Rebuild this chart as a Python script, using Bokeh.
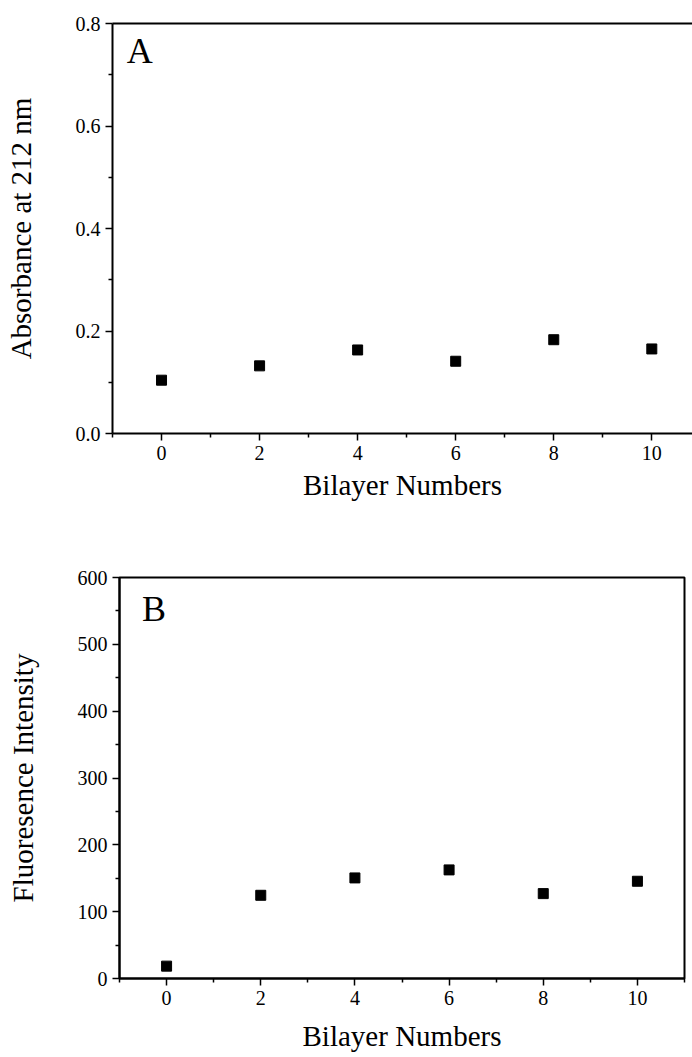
from bokeh.plotting import figure
from bokeh.models import FixedTicker, PrintfTickFormatter, Label, LinearAxis
from bokeh.embed import file_html
from bokeh.resources import INLINE

bilayers = [0, 2, 4, 6, 8, 10]
absorbance = [0.104, 0.132, 0.163, 0.141, 0.183, 0.165]
fluorescence = [18.5, 124.5, 150.5, 162.5, 127.0, 145.5]

x_major = [0, 2, 4, 6, 8, 10]
x_minor = [-1, 1, 3, 5, 7, 9, 11]
ya_major = [0.0, 0.2, 0.4, 0.6, 0.8]
ya_minor = [0.1, 0.3, 0.5, 0.7]
yb_major = [0, 100, 200, 300, 400, 500, 600]
yb_minor = [50, 150, 250, 350, 450, 550]

FONT = "Liberation Serif"


def style(p, xlabel, ylabel, xstand, ystand):
    p.xgrid.visible = False
    p.ygrid.visible = False
    p.outline_line_color = "black"
    p.outline_line_width = 2
    p.outline_line_alpha = 1
    p.background_fill_color = "white"
    p.border_fill_color = "white"
    for ax in (p.xaxis[0], p.yaxis[0]):
        ax.axis_line_color = "black"
        ax.axis_line_width = 2
        ax.major_tick_line_color = "black"
        ax.major_tick_line_width = 1.5
        ax.minor_tick_line_color = "black"
        ax.minor_tick_line_width = 1.5
        ax.major_tick_in = 0
        ax.major_tick_out = 7
        ax.minor_tick_in = 0
        ax.minor_tick_out = 4
        ax.major_label_text_font = FONT
        ax.major_label_text_font_size = "20px"
        ax.major_label_text_color = "black"
        ax.axis_label_text_font = FONT
        ax.axis_label_text_font_size = "29px"
        ax.axis_label_text_font_style = "normal"
        ax.axis_label_text_color = "black"
        ax.major_label_standoff = 5
    p.xaxis[0].axis_label = xlabel
    p.yaxis[0].axis_label = ylabel
    p.xaxis[0].axis_label_standoff = xstand
    p.yaxis[0].axis_label_standoff = ystand
    p.xaxis[0].ticker = FixedTicker(ticks=x_major, minor_ticks=x_minor)


pa = figure(width=692, height=520, x_range=(-1, 10.83), y_range=(0, 0.8),
            min_border_left=112, min_border_right=0, min_border_top=23,
            min_border_bottom=87, output_backend="svg", toolbar_location=None)
style(pa, "Bilayer Numbers", "Absorbance at 212 nm", 6, 36)
pa.outline_line_color = None
top_axis = LinearAxis(ticker=FixedTicker(ticks=[]), axis_line_width=2,
                      axis_line_color="black", major_tick_out=0, major_tick_in=0,
                      minor_tick_out=0, minor_tick_in=0,
                      major_label_text_font_size="0px")
pa.add_layout(top_axis, "above")
pa.yaxis[0].ticker = FixedTicker(ticks=ya_major, minor_ticks=ya_minor)
pa.yaxis[0].formatter = PrintfTickFormatter(format="%.1f")
pa.scatter(bilayers, absorbance, marker="square", size=10,
           fill_color="black", line_color="black")
pa.add_layout(Label(x=-0.71, y=0.708, text="A", text_font=FONT,
                    text_font_size="36px", text_color="black"))

pb = figure(width=692, height=537, x_range=(-1, 11), y_range=(0, 600),
            min_border_left=119, min_border_right=8, min_border_top=57,
            min_border_bottom=79, output_backend="svg", toolbar_location=None)
style(pb, "Bilayer Numbers", "Fluoresence Intensity", 12, 36)
pb.yaxis[0].ticker = FixedTicker(ticks=yb_major, minor_ticks=yb_minor)
pb.yaxis[0].formatter = PrintfTickFormatter(format="%d")
pb.scatter(bilayers, fluorescence, marker="square", size=10,
           fill_color="black", line_color="black")
pb.add_layout(Label(x=-0.52, y=523.5, text="B", text_font=FONT,
                    text_font_size="36px", text_color="black"))

open("out.html", "w").write(file_html([pa, pb], INLINE))
